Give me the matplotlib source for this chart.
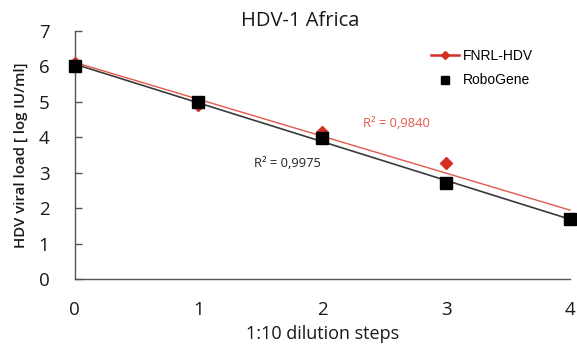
import numpy as np
import matplotlib
matplotlib.use("Agg")
import matplotlib.pyplot as plt
from matplotlib.lines import Line2D

steps = [0, 1, 2, 3, 4]
fnrl_hdv = [6.10, 4.90, 4.15, 3.28, 1.70]
robogene = [6.00, 5.00, 3.98, 2.70, 1.68]
r2_labels = ["R² = 0,9840", "R² = 0,9975"]
series_names = ["FNRL-HDV", "RoboGene"]

RED = "#d42d22"
RED_LINE = "#e4574a"
DARK = "#3a3a3a"
GRAY = "#555555"
FONT = "Open Sans"

fig = plt.figure(figsize=(5.77, 3.51), dpi=100)
ax = fig.add_axes([74.5 / 577, 1 - 279 / 351, (570 - 74.5) / 577, (279 - 30.7) / 351])

x = np.array(steps, dtype=float)
xf = np.array([0.0, 4.0])
# linear trendlines (as in the spreadsheet chart)
for ys, col, lw in [(robogene, DARK, 1.2), (fnrl_hdv, RED_LINE, 1.0)]:
    k, b = np.polyfit(x, np.array(ys), 1)
    ax.plot(xf, k * xf + b, color=col, lw=lw, zorder=2, clip_on=False)

ax.plot(steps, fnrl_hdv, linestyle="none", marker="D", ms=6.5, color=RED, zorder=3, clip_on=False)
ax.plot(steps, robogene, linestyle="none", marker="s", ms=8.5, color="black", zorder=4, clip_on=False)

ax.set_xlim(0, 4)
ax.set_ylim(0, 7)
ax.set_xticks(steps)
ax.set_yticks(range(0, 8))
for s in ["top", "right"]:
    ax.spines[s].set_visible(False)
for s in ["left", "bottom"]:
    ax.spines[s].set_color(GRAY)
    ax.spines[s].set_linewidth(1.0)
ax.tick_params(axis="y", direction="in", length=5, width=1, color=GRAY, pad=18,
               labelsize=13.5, labelcolor="#1a1a1a")
ax.tick_params(axis="x", length=0, pad=16, labelsize=13.5, labelcolor="#1a1a1a")
for lab in ax.get_xticklabels() + ax.get_yticklabels():
    lab.set_fontfamily(FONT)

ax.set_title("HDV-1 Africa", fontsize=14.5, fontfamily=FONT, color="#1a1a1a", pad=2, x=0.455)
ax.set_xlabel("1:10 dilution steps", fontsize=13, fontfamily=FONT, color="#1a1a1a", labelpad=4)
ax.set_ylabel("HDV viral load [ log IU/ml]", fontsize=10.8, fontfamily=FONT, color="#1a1a1a",
              fontweight="semibold", labelpad=8)

ax.text(2.6, 4.38, r2_labels[0], fontsize=9.3, fontfamily=FONT, color=RED_LINE, ha="center", va="center")
ax.text(1.72, 3.27, r2_labels[1], fontsize=9.3, fontfamily=FONT, color="#222222", ha="center", va="center")

handles = [
    Line2D([], [], color=RED, lw=1.8, marker="D", ms=4),
    Line2D([], [], color="black", linestyle="none", marker="s", ms=6),
]
leg = ax.legend(handles, series_names, loc="upper left", bbox_to_anchor=(431 / 577, 1 - 49 / 351),
                bbox_transform=fig.transFigure, frameon=False, handlelength=2.0, handletextpad=0.3,
                labelspacing=0.75, borderpad=0, borderaxespad=0,
                prop={"family": "Liberation Sans", "size": 10})

fig.savefig("out.png", dpi=100)
